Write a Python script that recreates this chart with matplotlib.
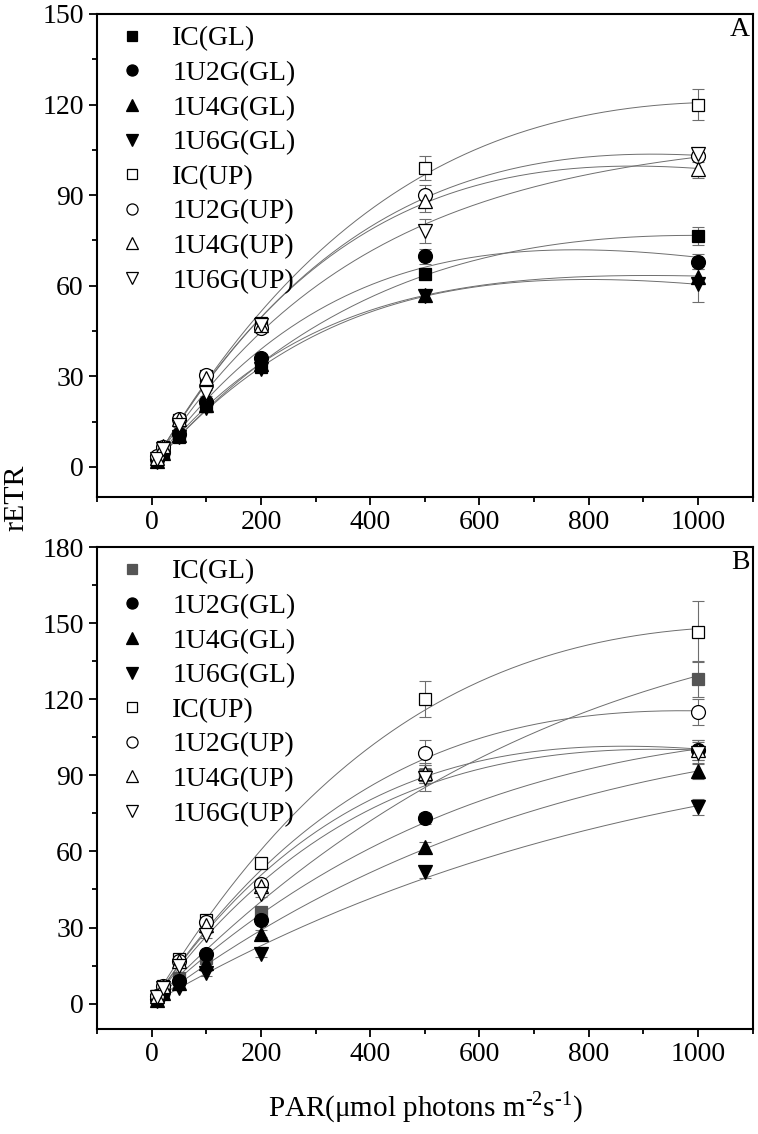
import numpy as np
import matplotlib
matplotlib.use("Agg")
import matplotlib.pyplot as plt
from matplotlib.ticker import MultipleLocator

plt.rcParams['font.family'] = ['Liberation Serif', 'DejaVu Serif']
plt.rcParams['mathtext.fontset'] = 'custom'
plt.rcParams['mathtext.rm'] = 'Liberation Serif'

# ─── Data ───────────────────────────────────────────────────────────────────────
par = [10, 20, 50, 100, 200, 500, 1000]

labels = ['IC(GL)', '1U2G(GL)', '1U4G(GL)', '1U6G(GL)',
          'IC(UP)', '1U2G(UP)', '1U4G(UP)', '1U6G(UP)']

# panel A
a_ic_gl   = [2.0, 4.5, 10.0, 20.0, 33.0, 64.0, 76.5]
a_u2g_gl  = [2.5, 5.0, 11.0, 21.5, 36.0, 69.7, 68.0]
a_u4g_gl  = [2.0, 4.5, 10.5, 20.5, 34.0, 57.0, 63.0]
a_u6g_gl  = [1.5, 4.0, 10.0, 19.5, 32.5, 56.5, 60.5]
a_ic_up   = [3.0, 6.5, 15.5, 30.0, 47.5, 99.0, 120.0]
a_u2g_up  = [3.5, 6.5, 16.0, 30.5, 46.0, 90.0, 103.0]
a_u4g_up  = [3.0, 7.0, 16.0, 29.5, 47.0, 88.0, 98.8]
a_u6g_up  = [2.5, 6.0, 14.0, 24.5, 47.0, 78.0, 103.5]
a_err = [
    [0.5, 0.5, 0.8, 1.0, 1.2, 2.0, 3.0],
    [0.5, 0.5, 0.8, 1.0, 1.2, 2.5, 2.5],
    [0.5, 0.5, 0.8, 1.0, 1.2, 2.0, 2.5],
    [0.5, 0.5, 0.8, 1.0, 1.2, 2.0, 6.0],
    [0.5, 0.5, 0.8, 1.0, 1.2, 4.0, 5.0],
    [0.5, 0.5, 0.8, 1.0, 1.2, 3.5, 2.0],
    [0.5, 0.5, 0.8, 1.0, 1.2, 3.5, 3.0],
    [0.5, 0.5, 0.8, 1.0, 1.2, 4.0, 2.0],
]

# panel B
b_ic_gl   = [2.0, 5.0, 10.0, 18.0, 36.0, 90.0, 128.0]
b_u2g_gl  = [2.0, 4.5, 9.0, 19.7, 33.0, 73.0, 100.0]
b_u4g_gl  = [1.5, 4.0, 8.0, 16.0, 27.6, 61.6, 91.6]
b_u6g_gl  = [1.0, 3.0, 6.0, 12.0, 19.7, 51.7, 77.5]
b_ic_up   = [3.0, 7.0, 17.5, 33.0, 55.5, 120.0, 146.6]
b_u2g_up  = [3.0, 7.0, 17.0, 32.0, 47.0, 99.0, 115.0]
b_u4g_up  = [3.0, 7.0, 17.0, 31.0, 46.5, 91.0, 100.0]
b_u6g_up  = [2.5, 6.0, 15.0, 27.0, 43.4, 89.0, 99.0]
b_err = [
    [0.5, 0.5, 0.8, 1.0, 1.5, 3.0, 7.0],
    [0.5, 0.5, 0.8, 1.0, 1.5, 2.0, 4.0],
    [0.5, 0.5, 0.8, 1.0, 1.5, 2.0, 3.0],
    [0.5, 0.5, 0.8, 1.0, 1.5, 2.0, 3.0],
    [0.5, 0.5, 0.8, 1.0, 1.5, 7.0, 12.0],
    [0.5, 0.5, 0.8, 1.0, 1.5, 5.0, 5.0],
    [0.5, 0.5, 0.8, 1.0, 1.5, 4.0, 4.0],
    [0.5, 0.5, 0.8, 1.0, 1.5, 5.0, 4.0],
]

panel_a = [a_ic_gl, a_u2g_gl, a_u4g_gl, a_u6g_gl, a_ic_up, a_u2g_up, a_u4g_up, a_u6g_up]
panel_b = [b_ic_gl, b_u2g_gl, b_u4g_gl, b_u6g_gl, b_ic_up, b_u2g_up, b_u4g_up, b_u6g_up]

# ─── Styles ─────────────────────────────────────────────────────────────────────
markers = ['s', 'o', '^', 'v', 's', 'o', '^', 'v']
filled = [True, True, True, True, False, False, False, False]
FS = 20


def fit_platt(x, y):
    """P = Pm (1 - exp(-a I)) exp(-b I), brute-force over a, b; Pm by least squares"""
    best = None
    for a in np.logspace(-4, -1, 150):
        for b in np.concatenate([[0.0], np.logspace(-5, -2.5, 60)]):
            g = (1 - np.exp(-a * x)) * np.exp(-b * x)
            pm = (g @ y) / (g @ g)
            r = ((y - pm * g) ** 2).sum()
            if best is None or r < best[0]:
                best = (r, pm, a, b)
    _, pm, a, b = best
    return lambda t: pm * (1 - np.exp(-a * t)) * np.exp(-b * t)


def draw_panel(ax, series, errs, tag, ymax, ic_color):
    x = np.array(par, dtype=float)
    xs = np.linspace(x.min(), x.max(), 300)
    for i, (y, e) in enumerate(zip(series, errs)):
        y = np.array(y, dtype=float)
        f = fit_platt(x, y)
        ax.plot(xs, f(xs), color='#6e6e6e', lw=0.7, zorder=2)
        ax.errorbar(x, y, yerr=e, fmt='none', ecolor='#6e6e6e',
                    elinewidth=0.8, capsize=4, capthick=0.8, zorder=3)
        fc = 'black' if filled[i] else 'white'
        if i == 0:
            fc = ic_color
        ax.plot(x, y, ls='none', marker=markers[i], ms=10 if markers[i] != 's' else 9,
                mfc=fc, mec=fc if filled[i] else 'black', mew=0.9,
                label=labels[i], zorder=4)

    ax.set_xlim(-100, 1100)
    ax.set_ylim(-10, ymax)
    ax.xaxis.set_major_locator(MultipleLocator(200))
    ax.xaxis.set_minor_locator(MultipleLocator(100))
    ax.yaxis.set_major_locator(MultipleLocator(30))
    ax.yaxis.set_minor_locator(MultipleLocator(15))
    ax.tick_params(which='both', direction='out', top=False, right=False,
                   labelsize=FS, width=1.3)
    ax.tick_params(which='major', length=6)
    ax.tick_params(which='minor', length=3.5)
    for s in ax.spines.values():
        s.set_linewidth(1.5)
    ax.text(0.995, 0.993, tag, transform=ax.transAxes, ha='right', va='top',
            fontsize=FS)
    ax.legend(loc='upper left', bbox_to_anchor=(0.032, 0.975), frameon=False,
              fontsize=FS, handlelength=1.0, handletextpad=0.95,
              labelspacing=0.33, borderpad=0, borderaxespad=0, markerscale=0.8)


fig = plt.figure(figsize=(7.58, 11.34), dpi=100)
ax1 = fig.add_axes([0.128, 0.5617, 0.865, 0.426])
ax2 = fig.add_axes([0.128, 0.0926, 0.865, 0.425])

draw_panel(ax1, panel_a, a_err, 'A', 150, 'black')
draw_panel(ax2, panel_b, b_err, 'B', 180, '#555555')

fig.text(0.022, 0.561, 'rETR', rotation=90, ha='center', va='center', fontsize=21.5)
fig.text(0.561, 0.024,
         'PAR(\u03bcmol photons m$^{\\mathregular{\u2010 2}}$s$^{\\mathregular{\u2010 1}}$)',
         ha='center', va='center', fontsize=21)

fig.savefig('out.png', dpi=100)
